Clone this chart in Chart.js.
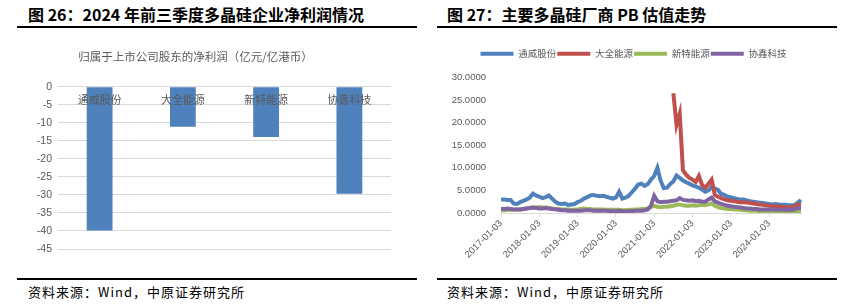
<!DOCTYPE html>
<html>
<head>
<meta charset="utf-8">
<script src="https://cdn.jsdelivr.net/npm/chart.js@4.4.1/dist/chart.umd.min.js"></script>
<style>
  body { margin:0; width:856px; height:308px; background:#fff; position:relative; overflow:hidden;
         font-family:'Noto Sans CJK SC', sans-serif; }
  .title { position:absolute; top:4px; font-size:16px; font-weight:700; color:#000; line-height:20px; white-space:nowrap; }
  .rule  { position:absolute; height:2px; background:#000; }
  .src   { position:absolute; top:283px; font-size:13px; letter-spacing:1px; color:#000; line-height:18px; white-space:nowrap; }
  canvas { position:absolute; }
</style>
</head>
<body>
<div class="title" style="left:28px;">图 26：2024 年前三季度多晶硅企业净利润情况</div>
<div class="rule" style="left:17px;top:26px;width:400px;"></div>
<div class="title" style="left:447px;">图 27：主要多晶硅厂商 PB 估值走势</div>
<div class="rule" style="left:437px;top:26px;width:400px;"></div>

<canvas id="profitChart" width="420" height="225" style="left:0;top:40px;"></canvas>
<canvas id="pbChart" width="426" height="232" style="left:430px;top:36px;"></canvas>

<div class="rule" style="left:17px;top:278px;width:400px;"></div>
<div class="src" style="left:28px;">资料来源：Wind，中原证券研究所</div>
<div class="rule" style="left:437px;top:278px;width:400px;"></div>
<div class="src" style="left:447px;">资料来源：Wind，中原证券研究所</div>

<script>
// ---- Data: net profit, Q1-Q3 2024 ----
const companies  = ['通威股份', '大全能源', '新特能源', '协鑫科技'];
const netProfit  = [-39.9, -11.1, -13.9, -29.7];

// ---- Data: PB, monthly 2017-01 .. 2024-11 ----
const years      = ['2017', '2018', '2019', '2020', '2021', '2022', '2023', '2024'];
const yearTicks  = ['2017-01-03', '2018-01-03', '2019-01-03', '2020-01-03', '2021-01-03', '2022-01-03', '2023-01-03', '2024-01-03'];
const months = [];
years.forEach(y => {
  for (let m = 1; m <= 12; m++) {
    if (y === '2024' && m > 11) break;
    months.push(`${y}-${String(m).padStart(2, '0')}`);
  }
});

const pbTongwei = [
  3.0, 3.0, 2.9, 2.9, 2.1, 2.0, 2.4, 2.7, 3.0, 3.4, 4.3, 3.9,
  3.6, 3.3, 3.5, 3.9, 3.2, 2.5, 2.1, 2.0, 2.1, 1.8, 1.9, 2.0,
  2.4, 2.7, 3.2, 3.5, 3.9, 4.0, 3.8, 3.7, 3.8, 3.6, 3.4, 3.2,
  3.4, 4.7, 3.2, 3.4, 3.8, 4.6, 5.4, 6.3, 6.5, 6.0, 6.4, 7.4,
  8.2, 10.0, 7.2, 5.5, 5.6, 6.4, 7.0, 8.3, 7.8, 7.2, 6.8, 6.5,
  6.1, 5.9, 5.6, 5.2, 4.7, 5.0, 5.8, 5.4, 5.1, 4.2, 4.0, 3.6,
  3.5, 3.3, 3.1, 3.0, 3.0, 2.8, 2.6, 2.5, 2.4, 2.3, 2.2, 2.1,
  2.0, 1.9, 2.0, 1.9, 1.8, 1.8, 1.7, 1.7, 1.8, 2.3, 2.9
];
const pbDaqo = [
  null, null, null, null, null, null, null, null, null, null, null, null,
  null, null, null, null, null, null, null, null, null, null, null, null,
  null, null, null, null, null, null, null, null, null, null, null, null,
  null, null, null, null, null, null, null, null, null, null, null, null,
  null, null, null, null, null, null, 26.5, 19.5, 22.0, 9.5, 8.5, 7.8,
  7.4, 6.9, 8.2, 6.2, 5.6, 6.5, 7.4, 4.0, 3.6, 3.3, 3.0, 2.8,
  2.7, 2.6, 2.5, 2.4, 2.4, 2.3, 2.2, 2.1, 2.0, 1.9, 1.8, 1.7,
  1.6, 1.5, 1.5, 1.4, 1.4, 1.3, 1.3, 1.3, 1.4, 1.9, 1.8
];
const pbXinte = [
  0.6, 0.6, 0.7, 0.7, 0.7, 0.8, 0.8, 0.9, 1.0, 1.1, 1.2, 1.2,
  1.3, 1.2, 1.2, 1.1, 1.0, 0.9, 0.9, 0.8, 0.8, 0.8, 0.7, 0.7,
  0.8, 0.9, 1.0, 0.9, 0.9, 0.8, 0.8, 0.8, 0.8, 0.7, 0.7, 0.7,
  0.7, 0.7, 0.6, 0.6, 0.7, 0.7, 0.8, 0.8, 0.9, 0.9, 1.0, 1.3,
  1.6, 1.4, 1.3, 1.4, 1.4, 1.5, 1.6, 1.8, 1.9, 1.7, 1.6, 1.6,
  1.7, 1.6, 1.7, 1.8, 1.7, 1.9, 2.1, 1.6, 1.3, 1.1, 1.0, 0.9,
  0.9, 0.8, 0.8, 0.7, 0.6, 0.6, 0.5, 0.5, 0.5, 0.4, 0.4, 0.4,
  0.4, 0.4, 0.3, 0.3, 0.3, 0.3, 0.3, 0.3, 0.3, 0.4, 0.4
];
const pbGcl = [
  0.9, 0.9, 1.0, 0.9, 0.8, 0.8, 0.8, 0.9, 1.0, 1.1, 1.2, 1.1,
  1.0, 1.0, 1.1, 1.0, 0.9, 0.8, 0.7, 0.6, 0.6, 0.5, 0.5, 0.5,
  0.5, 0.5, 0.6, 0.6, 0.6, 0.5, 0.5, 0.5, 0.5, 0.5, 0.4, 0.4,
  0.4, 0.5, 0.4, 0.4, 0.4, 0.4, 0.5, 0.5, 0.5, 0.6, 0.8, 1.6,
  3.8, 2.6, 2.4, 2.5, 2.5, 2.6, 2.7, 2.8, 3.3, 2.9, 2.8, 2.7,
  2.8, 2.6, 2.7, 2.5, 2.5, 3.0, 3.4, 2.6, 2.3, 2.0, 1.8, 1.6,
  1.5, 1.4, 1.3, 1.2, 1.1, 1.0, 1.0, 0.9, 0.9, 0.8, 0.8, 0.8,
  0.8, 0.8, 0.8, 0.7, 0.7, 0.7, 0.7, 0.7, 0.8, 1.1, 1.1
];

const GRAY_TEXT = '#595959';
const GRID      = '#d9d9d9';
Chart.defaults.font.family = "'Liberation Sans', 'Noto Sans CJK SC', sans-serif";
Chart.defaults.animation = false;

// ---- Left: net profit bars ----
new Chart(document.getElementById('profitChart'), {
  type: 'bar',
  data: {
    labels: companies,
    datasets: [{ data: netProfit, backgroundColor: '#4f81bd', barPercentage: 0.31, categoryPercentage: 1.0 }],
  },
  options: {
    responsive: false,
    layout: { padding: { left: 0, right: 29, top: 0, bottom: 16 } },
    plugins: {
      legend: { display: false },
      tooltip: { enabled: false },
      title: {
        display: true,
        text: '归属于上市公司股东的净利润（亿元/亿港币）',
        color: GRAY_TEXT,
        font: { family: 'Noto Sans CJK SC', size: 11.5, weight: 'normal' },
        padding: { top: 10, bottom: 23 },
      },
    },
    scales: {
      x: {
        position: { y: 0 },
        grid: { display: false, drawTicks: false },
        border: { display: false },
        ticks: { z: 1, color: GRAY_TEXT, padding: 6, font: { family: 'Noto Sans CJK SC', size: 11 } },
      },
      y: {
        min: -45, max: 0,
        grid: { color: GRID, lineWidth: 1, drawTicks: false },
        border: { display: false },
        ticks: { stepSize: 5, color: GRAY_TEXT, padding: 6, font: { size: 10.5 } },
        afterFit: s => { s.width = 58; },
      },
    },
  },
});

// ---- Right: PB lines ----
const lineDs = (label, data, color, order) => ({
  label, data, borderColor: color, backgroundColor: color, borderWidth: 4,
  pointRadius: 0, tension: 0, spanGaps: false, order,
});

new Chart(document.getElementById('pbChart'), {
  type: 'line',
  data: {
    labels: months,
    datasets: [
      lineDs('通威股份', pbTongwei, '#4f81bd', 4),
      lineDs('大全能源', pbDaqo,    '#c0504d', 3),
      lineDs('新特能源', pbXinte,   '#9bbb59', 2),
      lineDs('协鑫科技', pbGcl,     '#8064a2', 1),
    ],
  },
  options: {
    responsive: false,
    layout: { padding: { left: 0, right: 55, top: 12, bottom: 5 } },
    plugins: {
      tooltip: { enabled: false },
      legend: {
        labels: {
          boxWidth: 33, boxHeight: 4, padding: 1, color: GRAY_TEXT,
          font: { family: 'Noto Sans CJK SC', size: 9.5 },
          generateLabels: chart => chart.data.datasets.map((ds, i) => ({
            text: ds.label, fillStyle: ds.borderColor, strokeStyle: ds.borderColor,
            lineWidth: 0, hidden: false, datasetIndex: i, fontColor: GRAY_TEXT,
          })),
        },
      },
    },
    scales: {
      x: {
        grid: { display: true, drawOnChartArea: false, drawTicks: true, tickLength: 4, color: GRID },
        border: { display: true, color: GRID },
        ticks: {
          autoSkip: false, minRotation: 45, maxRotation: 45, color: GRAY_TEXT, padding: 1,
          font: { size: 9.5 },
          callback: (v, i) => months[i].endsWith('-01') ? yearTicks[years.indexOf(months[i].slice(0, 4))] : null,
        },
        afterFit: s => { s.height = 50; },
      },
      y: {
        min: 0, max: 30,
        grid: { display: false },
        border: { display: false },
        ticks: { stepSize: 5, color: GRAY_TEXT, padding: 7, font: { size: 9.5 }, callback: v => v.toFixed(4) },
        afterFit: s => { s.width = 71; },
      },
    },
  },
  plugins: [{
    id: 'legendGap',
    beforeInit(chart) {
      const fit = chart.legend.fit;
      chart.legend.fit = function () { fit.call(this); this.height += 9; };
    },
    afterLayout(chart) {
      chart.legend.left  += 18;
      chart.legend.right += 18;
    },
  }],
});
</script>
</body>
</html>
